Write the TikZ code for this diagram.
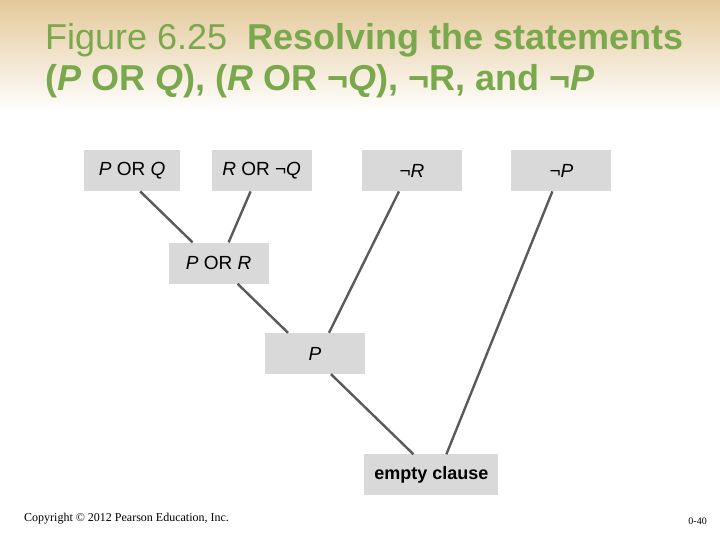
\documentclass[tikz,border=0pt]{standalone}
\usepackage{fontspec}
\setsansfont{Liberation Sans}
\newfontfamily\footfont{Liberation Serif}
\usetikzlibrary{positioning}

\definecolor{titlegreen}{RGB}{122,168,76}
\definecolor{headtan}{RGB}{228,201,154}
\definecolor{boxgray}{RGB}{217,217,217}
\definecolor{edgegray}{RGB}{90,90,90}

\begin{document}
\begin{tikzpicture}[
    x=1pt, y=-1pt,
    font=\sffamily,
    clause/.style={rectangle, fill=boxgray, inner sep=0pt, minimum width=100pt, minimum height=41pt, font=\sffamily\fontsize{19}{21}\selectfont},
    headline/.style={anchor=base west, inner sep=0pt, text=titlegreen, font=\sffamily\fontsize{36}{41}\selectfont},
    edge/.style={draw=edgegray, line width=2.4pt}
]
\useasboundingbox (0,0) rectangle (720,540);
\shade[top color=headtan, bottom color=white] (0,0) rectangle (720,112);

% Title
\node[headline] (title1) at (45,50) {Figure 6.25\ \ \textbf{Resolving the statements}};
\node[headline] (title2) at (45,91) {\textbf{(\textit{P} OR \textit{Q}), (\textit{R} OR ¬\textit{Q}), ¬R, and ¬\textit{P}}};

% Nodes
\node[clause, minimum width=96pt, anchor=north west] (pq) at (84,150) {\textit{P} OR \textit{Q}};
\node[clause, right=31pt of pq] (rnq) {\textit{R} OR ¬\textit{Q}};
\node[clause, right=50pt of rnq] (nr) {¬\textit{R}};
\node[clause, right=49pt of nr] (np) {¬\textit{P}};
\node[clause, below right=51pt and -12pt of pq] (por) {\textit{P} OR \textit{R}};
\node[clause, below right=49pt and -4pt of por] (p) {\textit{P}};
\node[clause, minimum width=134pt, font=\sffamily\bfseries\fontsize{18}{20}\selectfont, below right=80pt and -1pt of p] (empty) {empty clause};

% Edges
\draw[edge] ([xshift=8pt]pq.south) -- ([xshift=-26pt]por.north);
\draw[edge] ([xshift=-11pt]rnq.south) -- ([xshift=10pt]por.north);
\draw[edge] ([xshift=19pt]por.south) -- ([xshift=-27pt]p.north);
\draw[edge] ([xshift=-13pt]nr.south) -- ([xshift=14pt]p.north);
\draw[edge] ([xshift=16pt]p.south) -- ([xshift=-18pt]empty.north);
\draw[edge] ([xshift=-9pt]np.south) -- ([xshift=15pt]empty.north);

% Footer
\node[anchor=base west, inner sep=0pt, font=\footfont\fontsize{12}{14}\selectfont] (copy) at (24,521) {Copyright © 2012 Pearson Education, Inc.};
\node[anchor=base east, inner sep=0pt, font=\footfont\fontsize{10}{12}\selectfont] (page) at (707,524) {0-40};
\end{tikzpicture}
\end{document}
